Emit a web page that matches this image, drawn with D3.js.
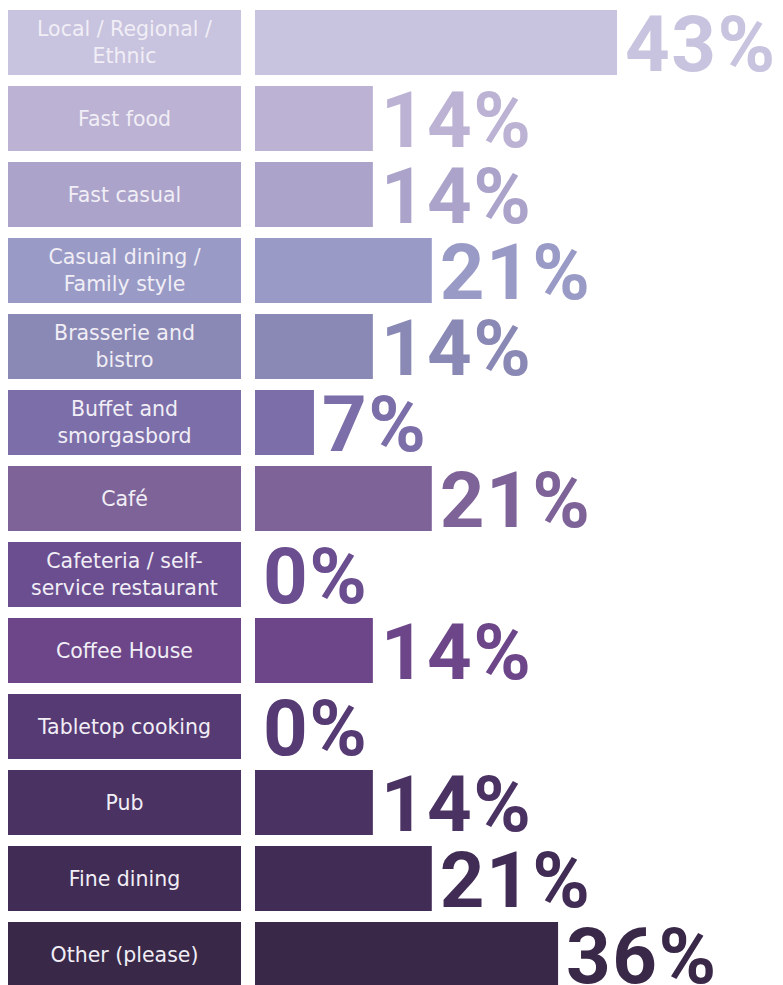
<!DOCTYPE html>
<html>
<head>
<meta charset="utf-8">
<script src="https://cdn.jsdelivr.net/npm/d3@7"></script>
<style>
	body { margin: 0; background: #fff; }
	svg { display: block; }
</style>
</head>
<body>
<div id="chart"></div>
<script>
// NOTE data
var categories = [
	'Local / Regional /\nEthnic',
	'Fast food',
	'Fast casual',
	'Casual dining /\nFamily style',
	'Brasserie and\nbistro',
	'Buffet and\nsmorgasbord',
	'Café',
	'Cafeteria / self-\nservice restaurant',
	'Coffee House',
	'Tabletop cooking',
	'Pub',
	'Fine dining',
	'Other (please)'
];
var values = [43, 14, 14, 21, 14, 7, 21, 0, 14, 0, 14, 21, 36];

// one shade per row, light lavender down to dark aubergine
var palette = [
	'#c8c3de', '#bcb2d3', '#aba3ca', '#999bc6', '#8a89b5', '#7c6fa9', '#7e6399',
	'#6b4e90', '#6c4689', '#563a73', '#4a3262', '#412c55', '#392848'
];

var width = 783,
	height = 985;

var svg = d3
	.select('#chart')
	.append('svg')
	.attr('width', width)
	.attr('height', height);

var y = d3
	.scaleBand()
	.domain(categories)
	.range([10, 987])
	.paddingInner(11 / 76)
	.paddingOuter(0);

var barLeft = 255;
var x = d3.scaleLinear().domain([0, 43]).range([0, 362]);

var rows = svg
	.selectAll('g.row')
	.data(categories)
	.enter()
	.append('g')
	.attr('class', 'row')
	.attr('transform', function (d) {
		return 'translate(0,' + y(d) + ')';
	});

// label boxes
rows
	.append('rect')
	.attr('x', 8)
	.attr('width', 233)
	.attr('height', y.bandwidth())
	.attr('fill', function (d, i) {
		return palette[i];
	});

rows.each(function (d) {
	var lines = d.split('\n');
	var t = d3
		.select(this)
		.append('text')
		.attr('x', 124.5)
		.attr('text-anchor', 'middle')
		.style('font-family', '"DejaVu Sans", sans-serif')
		.style('font-size', '20.5px')
		.style('fill', '#f1eef6');
	var lh = 27;
	var top = y.bandwidth() / 2 - ((lines.length - 1) * lh) / 2 + 7;
	lines.forEach(function (l, k) {
		t.append('tspan')
			.attr('x', 124.5)
			.attr('y', top + k * lh)
			.text(l);
	});
});

// bars
rows
	.append('rect')
	.attr('x', barLeft)
	.attr('width', function (d, i) {
		return x(values[i]);
	})
	.attr('height', y.bandwidth())
	.attr('fill', function (d, i) {
		return palette[i];
	});

// value labels
rows
	.append('text')
	.attr('x', function (d, i) {
		return barLeft + x(values[i]) + 8;
	})
	.attr('y', y.bandwidth() - 4)
	.style('font-family', 'Roboto, sans-serif')
	.style('font-weight', 'bold')
	.style('font-size', '78px')
	.style('letter-spacing', '1.5px')
	.style('fill', function (d, i) {
		return palette[i];
	})
	.text(function (d, i) {
		return values[i] + '%';
	});
</script>
</body>
</html>
